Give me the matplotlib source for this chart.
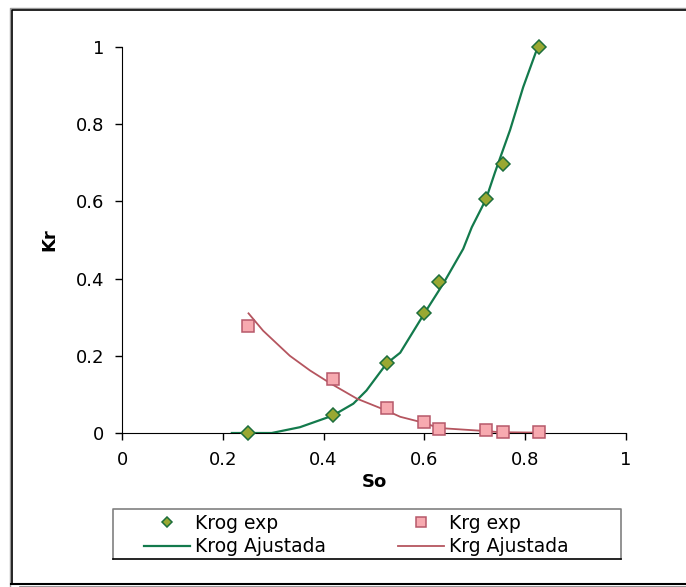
import numpy as np
import matplotlib.pyplot as plt
from matplotlib.patches import Rectangle
from matplotlib.lines import Line2D
from matplotlib import rc

rc('font', family='DejaVu Sans', size=12)

# Experimental relative permeability points
so_exp = [0.250, 0.418, 0.525, 0.600, 0.628, 0.722, 0.755, 0.827]
krog_exp = [0.000, 0.047, 0.181, 0.310, 0.392, 0.605, 0.696, 1.000]
krg_exp = [0.278, 0.140, 0.064, 0.028, 0.010, 0.008, 0.003, 0.002]

# Fitted curves
so_krog_fit = [0.218, 0.297, 0.353, 0.418, 0.459, 0.485, 0.525, 0.552, 0.600,
               0.637, 0.677, 0.694, 0.722, 0.740, 0.770, 0.796, 0.821, 0.827]
krog_fit = [0.000, 0.000, 0.015, 0.045, 0.076, 0.110, 0.180, 0.208, 0.310,
            0.386, 0.477, 0.533, 0.605, 0.675, 0.785, 0.896, 0.986, 1.000]
so_krg_fit = [0.251, 0.280, 0.333, 0.373, 0.413, 0.466, 0.525, 0.552, 0.600,
              0.628, 0.722, 0.750, 0.827]
krg_fit = [0.310, 0.265, 0.200, 0.162, 0.129, 0.089, 0.058, 0.042, 0.026,
           0.013, 0.005, 0.002, 0.001]

ticks = [0, 0.2, 0.4, 0.6, 0.8, 1]
tick_labels = ['0', '0.2', '0.4', '0.6', '0.8', '1']

W, H = 686, 587
fig = plt.figure(figsize=(W / 100, H / 100), dpi=100)


def px_line(x, y, **kw):
    fig.add_artist(Line2D([v / W for v in x], [1 - v / H for v in y],
                          transform=fig.transFigure, **kw))


# outer chart frame, right side runs off the canvas
px_line([10, 10, 700], [586, 8, 8], color='#9a9a9a', lw=1.0)
px_line([20, 700], [586.5, 586.5], color='#8c8c8c', lw=2.0)
px_line([11.5, 11.5, 700], [584, 9.5, 9.5], color='black', lw=1.2)
px_line([11, 700], [584, 584], color='black', lw=1.5)

ax = fig.add_axes([122 / W, 1 - 433 / H, 504 / W, 386 / H])

ax.plot(so_exp, krog_exp, ls='none', marker='D', ms=7, mfc='#99a832',
        mec='#1d6e3c', mew=1.1, label='Krog exp', clip_on=False, zorder=4)
ax.plot(so_krog_fit, krog_fit, color='#137a4c', lw=1.6,
        label='Krog Ajustada', zorder=3)
ax.plot(so_exp, krg_exp, ls='none', marker='s', ms=8.5, mfc='#f7aab0',
        mec='#b6586a', mew=1.1, label='Krg exp', clip_on=False, zorder=4)
ax.plot(so_krg_fit, krg_fit, color='#b5555f', lw=1.3,
        label='Krg Ajustada', zorder=3)

ax.set_xlim(0, 1)
ax.set_ylim(0, 1)
ax.set_xticks(ticks)
ax.set_xticklabels(tick_labels)
ax.set_yticks(ticks)
ax.set_yticklabels(tick_labels)
ax.tick_params(direction='out', length=5, width=1, pad=8, labelsize=13)
for side in ['top', 'right']:
    ax.spines[side].set_visible(False)
ax.set_xlabel('So', fontsize=13, fontweight='bold', labelpad=3)
ax.set_ylabel('Kr', fontsize=13, fontweight='bold', labelpad=12)

# legend box
px_line([113, 113, 621, 621], [559, 509, 509, 559], color='#808080', lw=1.2)
px_line([113, 621], [559, 559], color='black', lw=1.2)

handles, labels = ax.get_legend_handles_labels()
fs = 13.5
em = fs * 100 / 72
for col, x0 in enumerate([144, 398]):
    fig.legend(handles[2 * col:2 * col + 2], labels[2 * col:2 * col + 2],
               loc='center left', bbox_to_anchor=(x0 / W, 1 - 535 / H),
               frameon=False, borderpad=0, borderaxespad=0, fontsize=fs,
               handlelength=46 / em, handletextpad=5 / em,
               labelspacing=0.25, markerscale=0.8)

fig.savefig('out.png', dpi=100)
